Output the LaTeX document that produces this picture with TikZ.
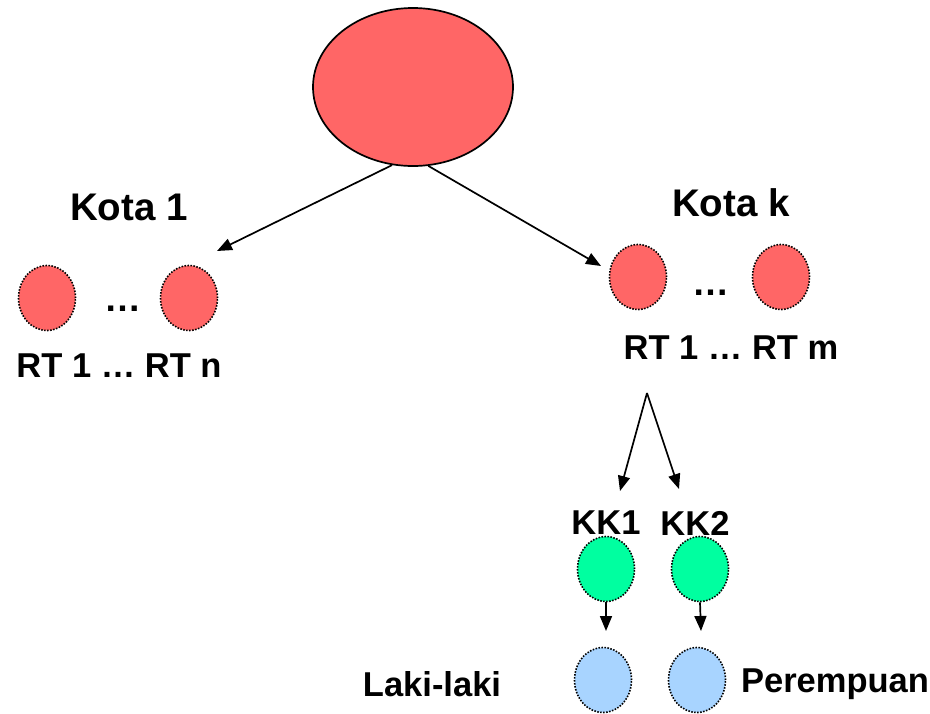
\documentclass[tikz,border=0pt]{standalone}
\usepackage{fontspec}
\setmainfont{Liberation Sans}
\usetikzlibrary{shapes.geometric,arrows.meta}
\definecolor{redfill}{RGB}{255,102,102}
\definecolor{greenfill}{RGB}{0,255,160}
\definecolor{bluefill}{RGB}{168,212,255}
\tikzset{
  dotcirc/.style={ellipse,draw=black,line width=1.6pt,dash pattern=on 1.5pt off 1.5pt,minimum width=57pt,minimum height=65pt,inner sep=0pt},
  redc/.style={dotcirc,fill=redfill},
  greenc/.style={dotcirc,fill=greenfill},
  bluec/.style={dotcirc,fill=bluefill},
  lbl/.style={font=\fontsize{34.5}{40}\selectfont\bfseries,inner sep=0pt},
  bigl/.style={font=\fontsize{38.5}{44}\selectfont\bfseries,inner sep=0pt},
  dotsl/.style={font=\fontsize{37}{40}\selectfont\bfseries,inner sep=0pt},
  arr/.style={line width=1.7pt,-{Triangle[length=15pt,width=12pt]}},
}
\begin{document}
\begin{tikzpicture}[x=1pt,y=-1pt]
\useasboundingbox (0,0) rectangle (930,713);
% root
\node[ellipse,draw=black,line width=1.7pt,fill=redfill,minimum width=200pt,minimum height=158pt,inner sep=0pt] (root) at (413,87) {};
% Kota 1
\node[bigl] (kota1) at (129,207) {Kota 1};
\node[redc] (l1) at (47,298) {};
\node[redc] (l2) at (189,298) {};
\node[dotsl] (ldots) at (123,309) {…};
\node[lbl] (lrt) at (119,366) {RT 1 … RT n};
% Kota k
\node[bigl] (kotak) at (731,203) {Kota k};
\node[redc] (r1) at (638,277) {};
\node[redc] (r2) at (781,277) {};
\node[dotsl] (rdots) at (711,293) {…};
\node[lbl] (rrt) at (731,348) {RT 1 … RT m};
% arrows from root
\coordinate (t1) at (217,251);
\coordinate (tk) at (601,266);
\draw[arr] (root.-105) -- (t1);
\draw[arr] (root.-79) -- (tk);
% split below RT m
\coordinate (apex) at (647,393);
\coordinate (k1t) at (620,491);
\coordinate (k2t) at (679,489);
\draw[arr] (apex) -- (k1t);
\draw[arr] (apex) -- (k2t);
% KK
\node[lbl] (kk1) at (606,523) {KK1};
\node[lbl] (kk2) at (695,523) {KK2};
\node[greenc] (g1) at (606,569) {};
\node[greenc] (g2) at (700,569) {};
% blue
\node[bluec] (b1) at (603,680) {};
\node[bluec] (b2) at (697,680) {};
\coordinate (g1t) at (606,631);
\coordinate (g2t) at (701,631);
\draw[arr] (g1.south) -- (g1t);
\draw[arr] (g2.south) -- (g2t);
\node[lbl] (laki) at (432,684) {Laki-laki};
\node[lbl] (per) at (835,684) {Perempuan};
\end{tikzpicture}
\end{document}
